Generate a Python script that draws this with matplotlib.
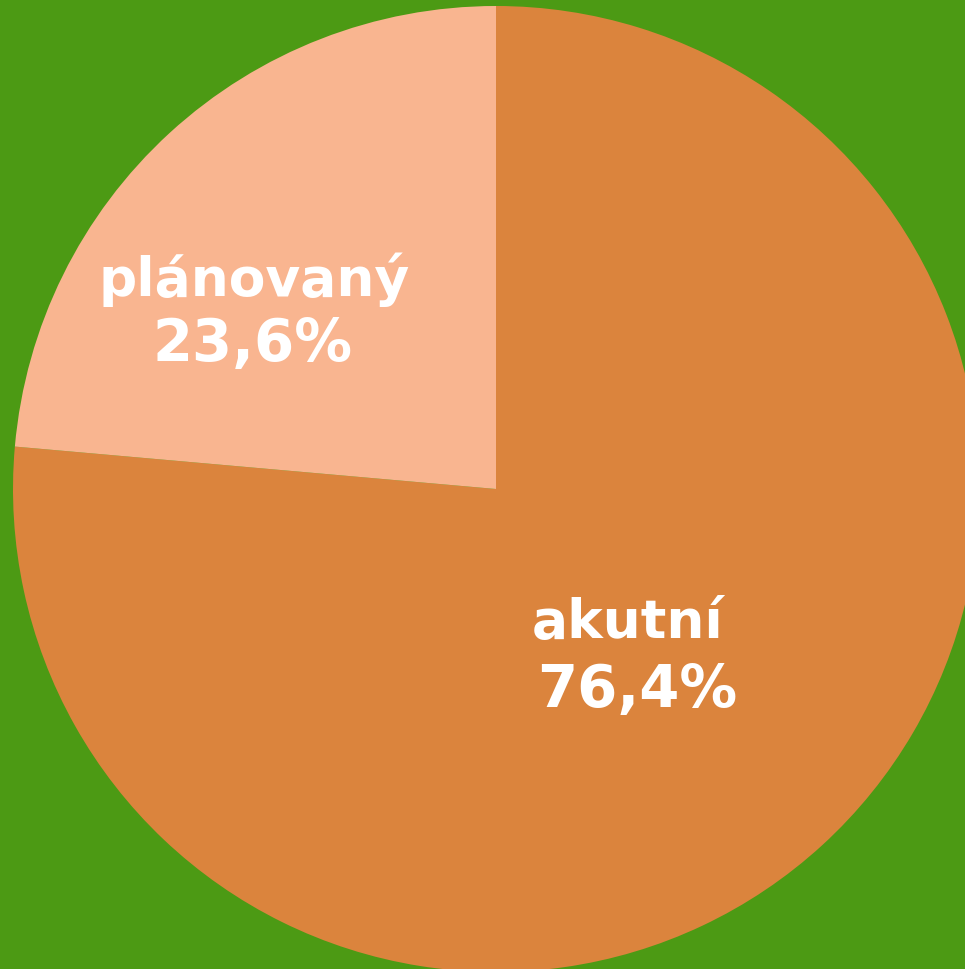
import matplotlib
matplotlib.use("Agg")
import matplotlib.pyplot as plt

categories = ["akutní", "plánovaný"]
values = [76.4, 23.6]
value_labels = ["76,4%", "23,6%"]
colors = ["#DB843D", "#F9B590"]
# label centres (name line, value line) in pie units
name_pos = [(0.273, -0.265), (-0.501, 0.446)]
value_pos = [(0.292, -0.403), (-0.503, 0.313)]

W, H = 965, 970
fig = plt.figure(figsize=(W / 100, H / 100), dpi=100)
fig.patch.set_facecolor("#4C9A14")

cx, cy, r = 496, 490, 483
ax = fig.add_axes([(cx - r) / W, (H - cy - r) / H, 2 * r / W, 2 * r / H])
ax.set_facecolor("none")
ax.pie(values, colors=colors, startangle=90, counterclock=False, radius=1,
       wedgeprops=dict(linewidth=0))
ax.set_xlim(-1, 1)
ax.set_ylim(-1, 1)
ax.set_aspect("equal", adjustable="box")
ax.axis("off")

for name, val, (nx, ny), (vx, vy) in zip(categories, value_labels, name_pos, value_pos):
    ax.text(nx, ny, name, ha="center", va="center_baseline", color="white",
            fontsize=38.5, fontweight="bold", family="DejaVu Sans")
    ax.text(vx, vy, val, ha="center", va="center_baseline", color="white",
            fontsize=41.5, fontweight="bold", family="DejaVu Sans")

fig.savefig("out.png", dpi=100, facecolor=fig.get_facecolor())
